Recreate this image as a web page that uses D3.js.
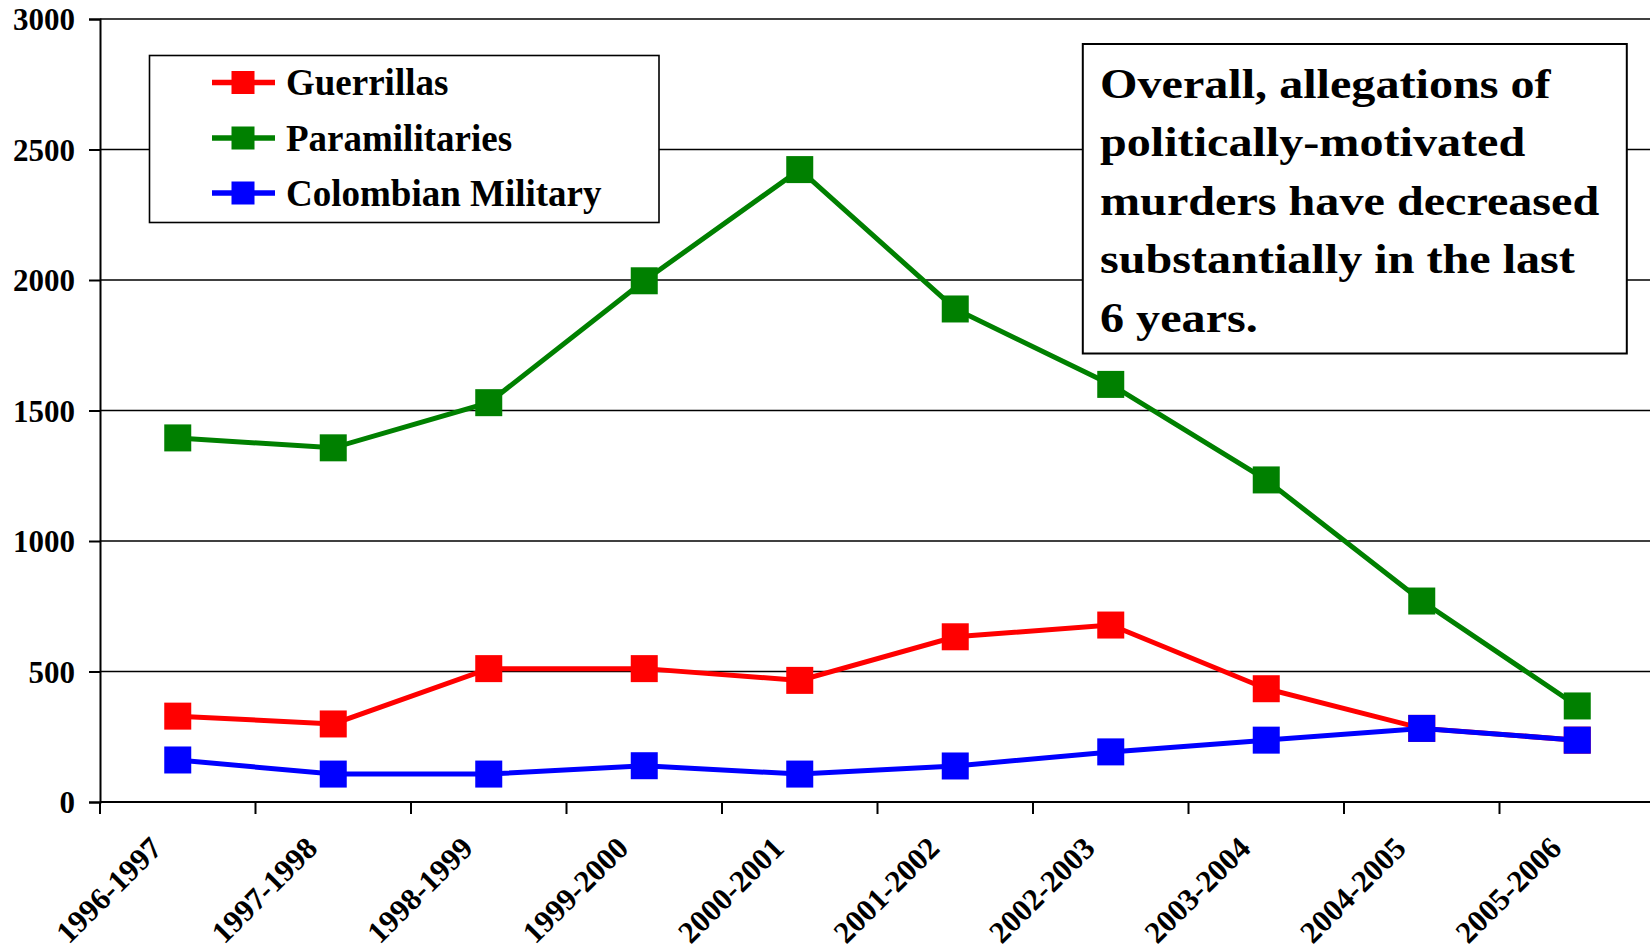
<!DOCTYPE html>
<html>
<head>
<meta charset="utf-8">
<script src="https://cdn.jsdelivr.net/npm/d3@7"></script>
<style>
  html, body { margin: 0; padding: 0; background: #fff; }
  svg { display: block; }
  text { font-family: "Liberation Serif", "Times New Roman", Times, serif; font-weight: bold; fill: #000; }
</style>
</head>
<body>
<svg id="chart" width="1650" height="952"></svg>
<script>
// ---- data ----
const categories = ["1996-1997","1997-1998","1998-1999","1999-2000","2000-2001",
                    "2001-2002","2002-2003","2003-2004","2004-2005","2005-2006"];
const guerrillas     = [329, 299, 511, 511, 466, 633, 678, 434, 282, 237];
const paramilitaries = [1395, 1357, 1530, 1997, 2423, 1889, 1600, 1234, 770, 368];
const military       = [161, 107, 107, 139, 107, 138, 192, 237, 282, 237];
const seriesNames  = ["Guerrillas", "Paramilitaries", "Colombian Military"];
const seriesColors = ["#ff0000", "#008000", "#0000ff"];
const yTicks = [0, 500, 1000, 1500, 2000, 2500, 3000];
const noteLines = ["Overall, allegations of", "politically-motivated",
                   "murders have decreased", "substantially in the last", "6 years."];

const seriesData = [guerrillas, paramilitaries, military];

// ---- layout ----
const svg = d3.select("#chart");
const FONT = '"Liberation Serif", "Times New Roman", Times, serif';
const plot = { left: 100, right: 1655, top: 19, bottom: 802 };

const x = d3.scaleBand().domain(categories).range([plot.left, plot.right]).paddingInner(0).paddingOuter(0);
const y = d3.scaleLinear().domain([0, 3000]).range([plot.bottom, plot.top]);
const cx = d => x(d) + x.bandwidth() / 2;

// gridlines
svg.append("g").selectAll("line").data(yTicks.filter(t => t > 0)).join("line")
  .attr("x1", plot.left).attr("x2", 1650)
  .attr("y1", d => y(d)).attr("y2", d => y(d))
  .attr("stroke", "#000").attr("stroke-width", 1.6);

// y axis
const yAxis = svg.append("g").attr("transform", `translate(${plot.left},0)`)
  .call(d3.axisLeft(y).tickValues(yTicks).tickSize(11).tickPadding(14).tickFormat(d3.format("d")));
yAxis.attr("font-family", FONT).attr("font-size", 31);
yAxis.select(".domain").attr("stroke", "#000").attr("stroke-width", 2);
yAxis.selectAll(".tick line").attr("stroke", "#000").attr("stroke-width", 2);
yAxis.selectAll(".tick text").attr("font-size", 31).attr("font-family", FONT)
  .attr("dy", "0.34em").attr("fill", "#000");

// x axis
const xTickPositions = d3.range(categories.length + 1).map(i => plot.left + i * x.bandwidth());
const xAxisG = svg.append("g");
xAxisG.append("line").attr("x1", plot.left).attr("x2", 1650)
  .attr("y1", plot.bottom).attr("y2", plot.bottom)
  .attr("stroke", "#000").attr("stroke-width", 2.2);
xAxisG.selectAll("line.tk").data(xTickPositions).join("line").attr("class", "tk")
  .attr("x1", d => d).attr("x2", d => d)
  .attr("y1", plot.bottom).attr("y2", plot.bottom + 12)
  .attr("stroke", "#000").attr("stroke-width", 2);
xAxisG.selectAll("text").data(categories).join("text")
  .attr("transform", d => `translate(${cx(d) - 14},${850}) rotate(-45)`)
  .attr("text-anchor", "end")
  .attr("font-family", FONT)
  .attr("font-size", 31)
  .text(d => d);

// legend box
const lg = svg.append("g").attr("font-family", FONT);
lg.append("rect").attr("x", 149.5).attr("y", 55.5).attr("width", 509.5).attr("height", 167)
  .attr("fill", "#fff").attr("stroke", "#000").attr("stroke-width", 1.6);
const rowY = [82.5, 138, 193];
seriesNames.forEach((name, i) => {
  lg.append("line").attr("x1", 212).attr("x2", 275).attr("y1", rowY[i]).attr("y2", rowY[i])
    .attr("stroke", seriesColors[i]).attr("stroke-width", 5.5);
  lg.append("rect").attr("x", 243 - 11.5).attr("y", rowY[i] - 11.5).attr("width", 23).attr("height", 23)
    .attr("fill", seriesColors[i]);
  lg.append("text").attr("x", 286).attr("y", rowY[i] + 12.5).attr("font-size", 37).text(name);
});

// series
const line = d3.line().x((d, i) => cx(categories[i])).y(d => y(d));
seriesData.forEach((vals, si) => {
  const g = svg.append("g");
  g.append("path").datum(vals).attr("d", line)
    .attr("fill", "none").attr("stroke", seriesColors[si]).attr("stroke-width", 5)
    .attr("stroke-linejoin", "miter");
  const ms = 27;
  g.selectAll("rect").data(vals).join("rect")
    .attr("x", (d, i) => cx(categories[i]) - ms / 2)
    .attr("y", d => y(d) - ms / 2)
    .attr("width", ms).attr("height", ms)
    .attr("fill", seriesColors[si]);
});

// annotation box
const ng = svg.append("g").attr("font-family", FONT);
ng.append("rect").attr("x", 1082.8).attr("y", 44).attr("width", 544).attr("height", 309.5)
  .attr("fill", "#fff").attr("stroke", "#000").attr("stroke-width", 2);
noteLines.forEach((t, i) => {
  ng.append("text")
    .attr("transform", `translate(1100,${97.5 + i * 58.5}) scale(1.12,1)`)
    .attr("font-size", 43)
    .text(t);
});
</script>
</body>
</html>
